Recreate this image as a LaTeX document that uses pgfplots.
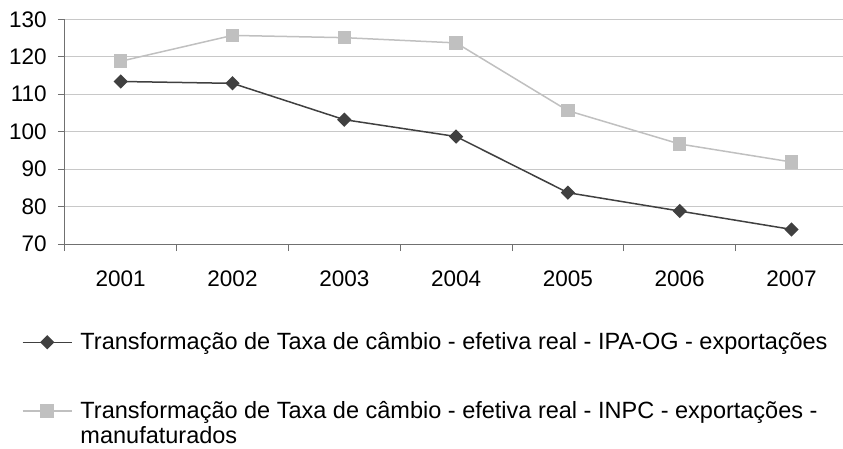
\documentclass[border=0pt]{standalone}
\usepackage{pgfplots}
\pgfplotsset{compat=1.18}
\usepackage{fontspec}
\setmainfont{Liberation Sans}
\definecolor{darkser}{HTML}{404040}
\definecolor{lightser}{HTML}{C0C0C0}
\definecolor{gridc}{HTML}{C8C8C8}
\definecolor{axisc}{HTML}{707070}
\begin{document}
\begin{tikzpicture}
\useasboundingbox (-64.8pt,-204pt) rectangle (778.2pt,244pt);
\begin{axis}[
  scale only axis,
  width=782.6pt, height=224.7pt,
  at={(0pt,0pt)}, anchor=south west,
  xmin=0.5, xmax=7.5,
  ymin=70, ymax=130,
  ytick={70,80,...,130},
  xtick={1,...,7},
  xticklabels={2001,2002,2003,2004,2005,2006,2007},
  minor xtick={0.5,1.5,...,7.5},
  axis x line*=bottom,
  axis y line*=left,
  axis line style={axisc, line width=1pt},
  tick align=outside,
  major tick length=7pt,
  minor tick length=7pt,
  major x tick style={draw=none},
  minor x tick style={axisc, line width=1pt},
  ytick style={axisc, line width=1pt},
  ymajorgrids,
  major grid style={gridc, line width=1pt},
  /pgf/number format/assume math mode=true,
  ticklabel style={font=\fontsize{22.5}{26}\selectfont, text=black},
  yticklabel style={xshift=-7.5pt},
  xticklabel style={yshift=-16pt},
  legend cell align=left,
  legend style={
    at={(0,0)}, anchor=north west,
    xshift=-42.8pt, yshift=-88.6pt,
    draw=none, fill=none,
    inner sep=0pt, outer sep=0pt,
    row sep=51.7pt, column sep=8pt,
    font=\fontsize{23.5}{25.5}\selectfont,
    cells={anchor=base west},
    nodes={inner sep=0pt, outer sep=0pt, text height=17pt, text depth=0pt},
  },
  legend image code/.code={%
    \draw[mark repeat=2,mark phase=2,#1] plot coordinates {(0pt,7.3pt) (24.5pt,7.3pt) (49pt,7.3pt)};},
]
\addplot[color=darkser, line width=1.5pt, mark=square*, mark size=4.3pt, mark options={rotate=45, solid, fill=darkser, draw=darkser}]
  coordinates {(1,113.4) (2,112.9) (3,103.2) (4,98.7) (5,83.7) (6,78.8) (7,73.9)};
\addlegendentry{Transformação de Taxa de câmbio - efetiva real - IPA-OG - exportações}
\addplot[color=lightser, line width=1.5pt, mark=square*, mark size=6pt, mark options={solid, fill=lightser, draw=lightser}]
  coordinates {(1,118.8) (2,125.7) (3,125.1) (4,123.7) (5,105.6) (6,96.7) (7,91.9)};
\addlegendentry{\parbox[t]{770pt}{Transformação de Taxa de câmbio - efetiva real - INPC - exportações -\\manufaturados}}
\end{axis}
\end{tikzpicture}
\end{document}
